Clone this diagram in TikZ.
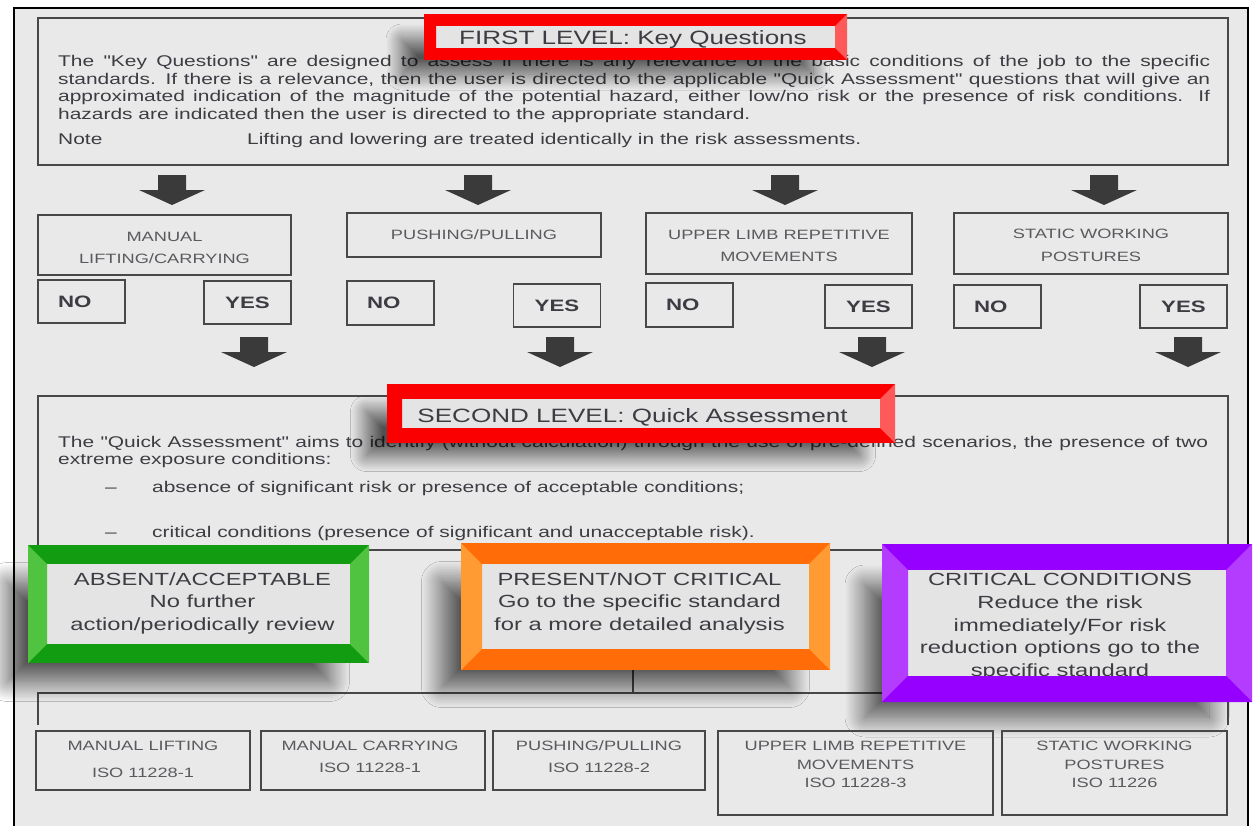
\documentclass[tikz,border=0pt]{standalone}
\usepackage{fontspec}
\setmainfont[FakeStretch=1.35, Ligatures=TeXOff]{Liberation Sans}
\usetikzlibrary{positioning}
\usetikzlibrary{shadows.blur}

\definecolor{bgc}{RGB}{233,233,233}
\definecolor{txtc}{RGB}{62,60,66}
\definecolor{boxc}{RGB}{72,72,72}
\definecolor{arrowc}{RGB}{58,58,58}
\definecolor{innerc}{RGB}{228,228,228}
\definecolor{redc}{RGB}{250,0,0}
\definecolor{redl}{RGB}{255,90,90}
\definecolor{greenc}{RGB}{18,156,18}
\definecolor{greenl}{RGB}{80,195,65}
\definecolor{orangec}{RGB}{255,108,8}
\definecolor{orangel}{RGB}{255,155,50}
\definecolor{purplec}{RGB}{150,0,255}
\definecolor{purplel}{RGB}{180,60,255}

% lighter side strips of a bevelled frame: node, half line width, left, right
\newcommand\sidestrips[4]{%
  \fill[#3] ([shift={(-#2,#2)}]#1.north west) -- ([shift={(#2,-#2)}]#1.north west)
    -- ([shift={(#2,#2)}]#1.south west) -- ([shift={(-#2,-#2)}]#1.south west) -- cycle;
  \fill[#4] ([shift={(#2,#2)}]#1.north east) -- ([shift={(-#2,-#2)}]#1.north east)
    -- ([shift={(-#2,#2)}]#1.south east) -- ([shift={(#2,-#2)}]#1.south east) -- cycle;
}

\tikzset{
  body/.style={font=\fontsize{15.5}{17.5}\selectfont, text=txtc, inner sep=0pt, anchor=base west},
  plainbox/.style={draw=boxc, line width=1.2pt, inner sep=0pt, outer sep=0pt},
  cattxt/.style={font=\fontsize{13.5}{22.5}\selectfont, text=txtc!85, align=center, inner sep=0pt},
  stdtxt/.style={font=\fontsize{13.5}{18.5}\selectfont, text=txtc!85, align=center, inner sep=0pt},
  yesno/.style={plainbox, minimum width=87pt, minimum height=43pt,
    font=\fontsize{16.5}{18}\selectfont\bfseries, text=txtc},
  nobox/.style={yesno, text width=47pt, inner xsep=20pt, align=left},
  levelframe/.style={draw=redc, fill=innerc, inner sep=0pt, outer sep=0pt,
    blur shadow={shadow xshift=-28pt, shadow yshift=-20pt, shadow blur radius=16pt,
      shadow blur steps=30, shadow opacity=65}},
  resultframe/.style={fill=innerc, inner sep=0pt, outer sep=0pt,
    blur shadow={shadow xshift=-30pt, shadow yshift=-28pt, shadow blur radius=20pt,
      shadow blur steps=30, shadow opacity=65}},
  resulttxt/.style={font=\fontsize{17.6}{22.5}\selectfont, text=txtc, align=center, inner sep=0pt},
  leveltxt/.style={font=\fontsize{19.3}{22}\selectfont, text=txtc, inner sep=0pt, anchor=base},
  downarrow/.pic={\fill[arrowc] (-14,0) -- (14,0) -- (14,15) -- (33,15) -- (0,30) -- (-33,15) -- (-14,15) -- cycle;},
}

\begin{document}
\begin{tikzpicture}[x=1pt, y=-1pt]
	\useasboundingbox (0,0) rectangle (1255,825);
	\clip (0,0) rectangle (1255,825);
	\fill[white] (0,0) rectangle (1255,825);
	\fill[bgc, draw=black, line width=1.5pt] (14,8) rectangle (1248,840);

	% First level
	\node[plainbox, minimum width=1190pt, minimum height=147pt] (keyq) at (633,91.5) {};
	\node[body] (k1) at (58,66.5) {\makebox[1152pt][s]{The "Key Questions" are designed to assess if there is any relevance of the basic conditions of the job to the specific}};
	\node[body] (k2) at (58,84) {\makebox[1152pt][s]{standards. If there is a relevance, then the user is directed to the applicable "Quick Assessment" questions that will give an}};
	\node[body] (k3) at (58,101.5) {\makebox[1152pt][s]{approximated indication of the magnitude of the potential hazard, either low/no risk or the presence of risk conditions. If}};
	\node[body] (k4) at (58,119) {hazards are indicated then the user is directed to the appropriate standard.};
	\node[body] (note) at (58,144.5) {Note};
	\node[body] (notetxt) at (247,144.5) {Lifting and lowering are treated identically in the risk assessments.};

	\node[levelframe, line width=12pt, minimum width=411pt, minimum height=34pt] (lvlone) at (635.5,37) {};
	\sidestrips{lvlone}{6pt}{redc}{redl}
	\node[leveltxt] (lvlonetxt) at (633,44.5) {FIRST LEVEL: Key Questions};

	\pic (ka) at (172,175) {downarrow};
	\pic (kb) at (478,175) {downarrow};
	\pic (kc) at (785,175) {downarrow};
	\pic (kd) at (1104,175) {downarrow};

	% Key questions
	\node[plainbox, minimum width=253pt, minimum height=60pt] (mlc) at (164.5,245) {};
	\node[cattxt, below=17pt of mlc.north] (mlctxt) {MANUAL\\LIFTING/CARRYING};
	\node[plainbox, minimum width=254pt, minimum height=44pt] (pp) at (474,235) {};
	\node[cattxt, below=17pt of pp.north] (pptxt) {PUSHING/PULLING};
	\node[plainbox, minimum width=266pt, minimum height=61pt] (ulr) at (779,243.5) {};
	\node[cattxt, below=17pt of ulr.north] (ulrtxt) {UPPER LIMB REPETITIVE\\MOVEMENTS};
	\node[plainbox, minimum width=274pt, minimum height=61pt] (swp) at (1091,243.5) {};
	\node[cattxt, below=16pt of swp.north] (swptxt) {STATIC WORKING\\POSTURES};

	\node[nobox] (noa) at (81.5,301.5) {NO};
	\node[yesno] (yesa) at (247.5,302.5) {YES};
	\node[nobox, minimum height=44pt] (nob) at (390.5,303) {NO};
	\node[yesno] (yesb) at (557,305.5) {YES};
	\node[nobox, minimum height=44pt] (noc) at (689.5,305) {NO};
	\node[yesno] (yesc) at (868.5,306.5) {YES};
	\node[nobox] (nod) at (997.5,306.5) {NO};
	\node[yesno] (yesd) at (1183.5,306.5) {YES};

	\pic (ya) at (254,337) {downarrow};
	\pic (yb) at (560,337) {downarrow};
	\pic (yc) at (872,337) {downarrow};
	\pic (yd) at (1188,337) {downarrow};

	% Second level
	\node[plainbox, minimum width=1190pt, minimum height=154pt] (quick) at (633,473) {};
	\node[body] (q1) at (58,447) {\makebox[1150pt][s]{The "Quick Assessment" aims to identify (without calculation) through the use of pre-defined scenarios, the presence of two}};
	\node[body] (q2) at (58,464) {extreme exposure conditions:};
	\node[body] (qda) at (105,492) {\textendash};
	\node[body] (q3) at (152,492) {absence of significant risk or presence of acceptable conditions;};
	\node[body] (qdb) at (105,537) {\textendash};
	\node[body] (q4) at (152,537) {critical conditions (presence of significant and unacceptable risk).};

	\node[levelframe, line width=15pt, minimum width=493pt, minimum height=44pt] (lvltwo) at (641,413.5) {};
	\sidestrips{lvltwo}{7.5pt}{redc}{redl}
	\node[leveltxt] (lvltwotxt) at (632.5,422.5) {SECOND LEVEL: Quick Assessment};

	% Tree to the standards
	\coordinate (treetop) at (633,660);
	\coordinate (fork) at (633,693);
	\coordinate (treeL) at (38,693);
	\coordinate (treeR) at (1228,693);
	\coordinate (dropL) at (38,725);
	\coordinate (dropR) at (1228,725);
	\draw[boxc, line width=1.2pt] (treetop) -- (fork);
	\draw[boxc, line width=1.2pt] (dropL) -- (treeL) -- (treeR) -- (dropR);

	% Results
	\node[resultframe, draw=greenc, line width=19pt, minimum width=322pt, minimum height=99pt] (absent) at (198.5,604) {};
	\sidestrips{absent}{9.5pt}{greenl}{greenl}
	\node[resulttxt, below=18pt of absent.north, xshift=4pt] (absenttxt) {ABSENT/ACCEPTABLE\\No further\\action/periodically review};

	\node[resultframe, draw=orangec, line width=21pt, minimum width=348pt, minimum height=106pt] (present) at (645.5,606.5) {};
	\sidestrips{present}{10.5pt}{orangel}{orangel}
	\node[resulttxt, below=19pt of present.north, xshift=-6pt] (presenttxt) {PRESENT/NOT CRITICAL\\Go to the specific standard\\for a more detailed analysis};

	\node[resultframe, draw=purplec, line width=26pt, minimum width=344pt, minimum height=132pt] (crit) at (1067,623) {};
	\sidestrips{crit}{13pt}{purplel}{purplel}
	\node[resulttxt, below=16.5pt of crit.north, xshift=-7pt] (crittxt) {CRITICAL CONDITIONS\\Reduce the risk\\immediately/For risk\\reduction options go to the\\specific standard};
	\fill[purplec] ([shift={(-13pt,-13pt)}]crit.south west) -- ([shift={(13pt,-13pt)}]crit.south east)
		-- ([shift={(-13pt,13pt)}]crit.south east) -- ([shift={(13pt,13pt)}]crit.south west) -- cycle;

	% Standards
	\node[plainbox, minimum width=214pt, minimum height=59pt] (lift) at (143,760.5) {};
	\node[stdtxt, below=10pt of lift.north] (lifttxt) {MANUAL LIFTING\\[8.5pt]ISO 11228-1};
	\node[plainbox, minimum width=224pt, minimum height=59pt] (carry) at (373,760.5) {};
	\node[stdtxt, below=10pt of carry.north, xshift=-3pt] (carrytxt) {MANUAL CARRYING\\[3.5pt]ISO 11228-1};
	\node[plainbox, minimum width=212pt, minimum height=59pt] (push) at (599,760.5) {};
	\node[stdtxt, below=10pt of push.north] (pushtxt) {PUSHING/PULLING\\[3.5pt]ISO 11228-2};
	\node[plainbox, minimum width=275pt, minimum height=84pt] (limb) at (855.5,773) {};
	\node[stdtxt, below=10pt of limb.north] (limbtxt) {UPPER LIMB REPETITIVE\\MOVEMENTS\\ISO 11228-3};
	\node[plainbox, minimum width=225pt, minimum height=84pt] (posture) at (1114.5,773) {};
	\node[stdtxt, below=10pt of posture.north] (posturetxt) {STATIC WORKING\\POSTURES\\ISO 11226};
\end{tikzpicture}
\end{document}
